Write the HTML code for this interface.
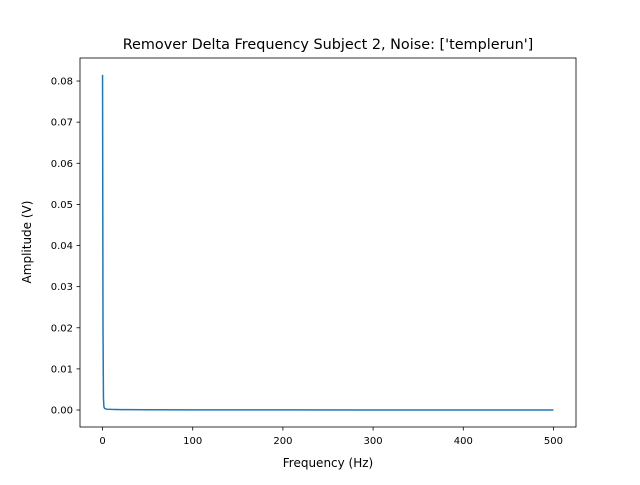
<!DOCTYPE html>
<html><head><meta charset="utf-8"><style>
body{margin:0;background:#fff;font-family:"Liberation Sans","DejaVu Sans",sans-serif}
svg text{font-family:"DejaVu Sans","Liberation Sans",sans-serif}
</style></head><body>
<svg id="chart" width="640" height="480" xmlns="http://www.w3.org/2000/svg">
<rect width="640" height="480" fill="#fff"/>
<text x="328" y="49" font-size="14.4" text-anchor="middle">Remover Delta Frequency Subject 2, Noise: ['templerun']</text>
<g id="xt"></g>
<g id="yt"></g>
<path id="line" fill="none" stroke="#1f77b4" stroke-width="1.5"/>
<rect x="80" y="58" width="496" height="369" fill="none" stroke="#000" stroke-width="0.8"/>
<text x="328" y="467" font-size="12" text-anchor="middle">Frequency (Hz)</text>
<text transform="translate(31,242) rotate(-90)" font-size="12" text-anchor="middle">Amplitude (V)</text>
</svg>
<script>
const freqs=[0,0.5,1,1.5,2,3,5,10,20,50,100,200,300,400,500];
const amps=[0.0815,0.02,0.003,0.0008,0.0005,0.0003,0.0002,0.00015,0.0001,0.00005,0.00003,0.00002,0.00001,0.00001,0.00001];
const xTicks=[0,100,200,300,400,500];
const yTicks=[0,0.01,0.02,0.03,0.04,0.05,0.06,0.07,0.08];
const X0=80,X1=576,Y0=58,Y1=427,xmin=-25,xmax=525,ymin=-0.00413,ymax=0.0856;
const sx=v=>X0+(v-xmin)/(xmax-xmin)*(X1-X0);
const sy=v=>Y1-(v-ymin)/(ymax-ymin)*(Y1-Y0);
const NS="http://www.w3.org/2000/svg";
function mk(t,a,p){const e=document.createElementNS(NS,t);for(const k in a)e.setAttribute(k,a[k]);p.appendChild(e);return e;}
const xt=document.getElementById('xt'),yt=document.getElementById('yt');
xTicks.forEach(v=>{const x=sx(v);
const l=mk('line',{x1:x,x2:x,y1:Y1,y2:Y1+3.5,stroke:'#000','stroke-width':0.8},xt);


const t=mk('text',{x:x,y:Y1+17,'font-size':10,'text-anchor':'middle'},xt);t.textContent=v;

});
yTicks.forEach(v=>{const y=sy(v);
const l=mk('line',{x1:X0-3.5,x2:X0,y1:y,y2:y,stroke:'#000','stroke-width':0.8},yt);


const t=mk('text',{x:X0-7,y:y+3.5,'font-size':10,'text-anchor':'end'},yt);t.textContent=v.toFixed(2);

});
document.getElementById('line').setAttribute('d',freqs.map((f,i)=>(i?'L':'M')+sx(f).toFixed(2)+','+sy(amps[i]).toFixed(2)).join(''));
</script>
</body></html>
